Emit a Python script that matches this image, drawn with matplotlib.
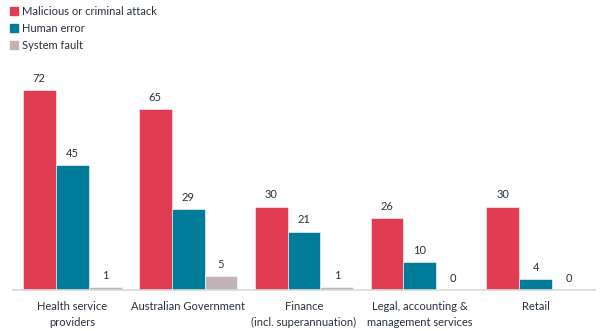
import numpy as np
import matplotlib.pyplot as plt
from matplotlib.patches import Patch

plt.rcParams['font.family'] = ['Lato', 'DejaVu Sans']

# Data
sectors = ['Health service\nproviders', 'Australian Government', 'Finance\n(incl. superannuation)',
           'Legal, accounting &\nmanagement services', 'Retail']
series = ['Malicious or criminal attack', 'Human error', 'System fault']
malicious = [72, 65, 30, 26, 30]
human = [45, 29, 21, 10, 4]
system = [1, 5, 1, 0, 0]

colors = ['#E03C52', '#007C99', '#C3B3B7']
text_col = '#26303B'

fig = plt.figure(figsize=(6.02, 3.31), dpi=100)
ax = fig.add_axes([13/602, 41/331, 582/602, 230/331])

x = np.arange(len(sectors))
w = 0.284
for k, (vals, c) in enumerate(zip([malicious, human, system], colors)):
    bars = ax.bar(x + (k - 1) * w, vals, width=w, color=c, edgecolor='white', linewidth=0.4)
    for b, v in zip(bars, vals):
        ax.text(b.get_x() + b.get_width() / 2, v + 2.2, str(v), ha='center', va='bottom',
                fontsize=8, color=text_col)

ax.set_xlim(-0.51, 4.51)
ax.set_ylim(0, 82.7)
ax.set_xticks(x)
ax.set_xticklabels(sectors, fontsize=8, color=text_col, linespacing=1.5)
ax.tick_params(axis='x', length=0, pad=8)
ax.set_yticks([])
for s in ['top', 'right', 'left']:
    ax.spines[s].set_visible(False)
ax.spines['bottom'].set_color('#D9D9D9')
ax.spines['bottom'].set_linewidth(1.2)

handles = [Patch(color=c) for c in colors]
fig.legend(handles, series, loc='upper left', bbox_to_anchor=(0.0, 1.013), frameon=False,
           fontsize=8, handlelength=0.7, handleheight=0.7, handletextpad=0.4,
           labelspacing=0.55, labelcolor=text_col)

fig.savefig('out.png', dpi=100)
